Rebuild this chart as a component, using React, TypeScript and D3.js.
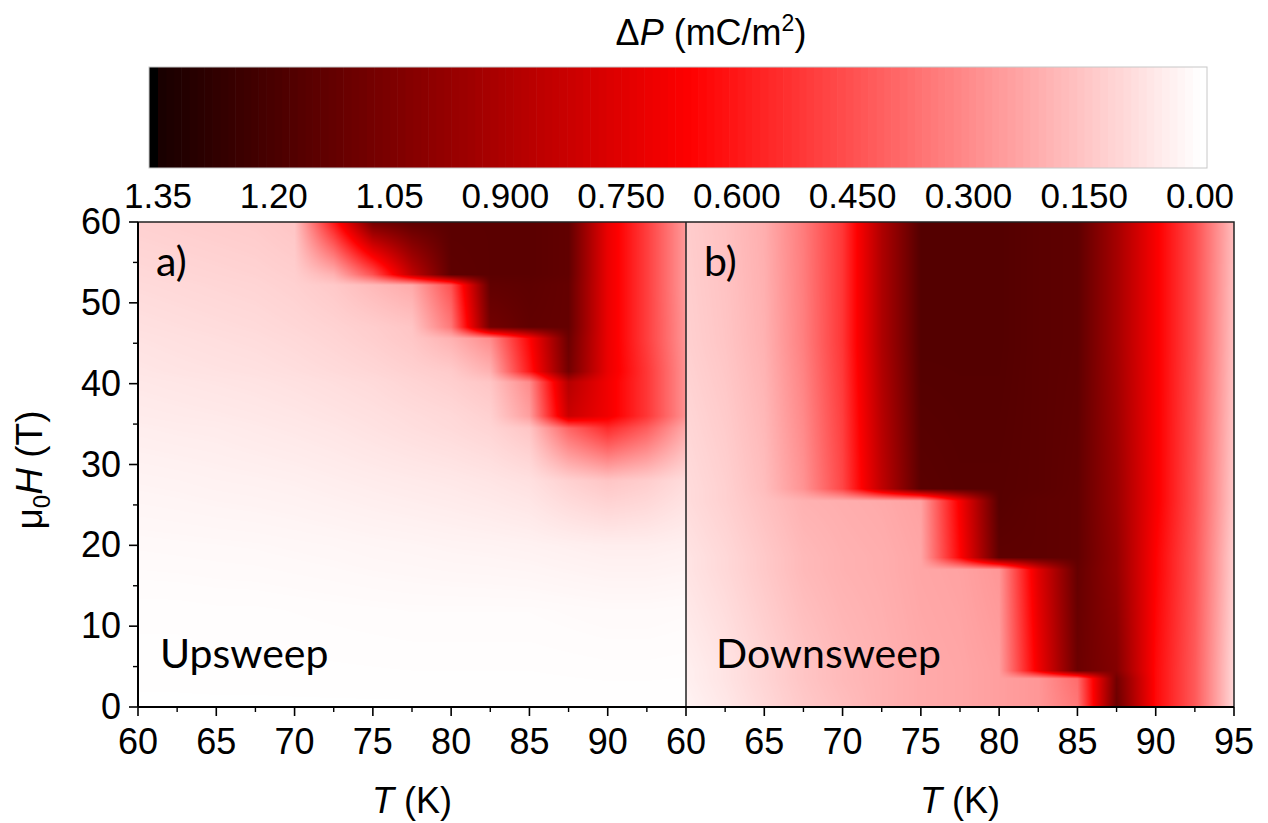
import React, { useMemo } from 'react';
import * as d3 from 'd3';

// ---------- DATA ----------
// Temperature columns (K) shared by both panels
const temps = [60, 62.5, 65, 67.5, 70, 72.5, 75, 77.5, 80, 82.5, 85, 87.5, 90, 92.5, 95];

// Upsweep: field nodes (T) and ΔP (mC/m²) per temperature column
const fieldsUp = [0, 12, 20, 28, 34.5, 36, 40.2, 41.5, 45.6, 47, 52.2, 53.5, 60];
const upsweep = [
  [0, 0.005, 0.015, 0.03, 0.045, 0.05, 0.06, 0.065, 0.075, 0.08, 0.095, 0.1, 0.12],
  [0, 0.005, 0.016, 0.032, 0.048, 0.053, 0.064, 0.07, 0.08, 0.085, 0.1, 0.105, 0.125],
  [0, 0.006, 0.017, 0.035, 0.05, 0.056, 0.068, 0.074, 0.085, 0.09, 0.105, 0.11, 0.13],
  [0, 0.006, 0.018, 0.037, 0.055, 0.06, 0.072, 0.078, 0.09, 0.095, 0.11, 0.115, 0.135],
  [0, 0.007, 0.02, 0.04, 0.06, 0.065, 0.078, 0.085, 0.098, 0.104, 0.12, 0.125, 0.15],
  [0, 0.008, 0.022, 0.045, 0.066, 0.072, 0.086, 0.094, 0.11, 0.115, 0.14, 0.2, 0.6],
  [0, 0.009, 0.025, 0.05, 0.075, 0.08, 0.095, 0.105, 0.125, 0.13, 0.18, 0.45, 1.08],
  [0, 0.01, 0.027, 0.055, 0.085, 0.09, 0.11, 0.12, 0.145, 0.15, 0.22, 0.85, 1.14],
  [0, 0.01, 0.03, 0.06, 0.095, 0.1, 0.125, 0.135, 0.2, 0.35, 0.45, 1.14, 1.15],
  [0, 0.01, 0.032, 0.068, 0.11, 0.12, 0.15, 0.2, 0.3, 1.08, 1.13, 1.15, 1.15],
  [0, 0.01, 0.035, 0.08, 0.15, 0.25, 0.3, 0.6, 0.65, 1.13, 1.14, 1.15, 1.15],
  [0, 0.012, 0.04, 0.12, 0.4, 0.82, 0.88, 1.08, 1.1, 1.12, 1.12, 1.13, 1.13],
  [0, 0.014, 0.045, 0.15, 0.55, 0.7, 0.7, 0.72, 0.72, 0.72, 0.72, 0.72, 0.72],
  [0, 0.014, 0.045, 0.13, 0.42, 0.52, 0.52, 0.52, 0.5, 0.5, 0.5, 0.5, 0.5],
  [0, 0.012, 0.04, 0.09, 0.22, 0.28, 0.28, 0.28, 0.27, 0.27, 0.26, 0.26, 0.26],
];

// Downsweep
const fieldsDown = [0, 3.5, 4.5, 17, 18.5, 25.5, 27, 45, 60];
const downsweep = [
  [0.03, 0.04, 0.04, 0.07, 0.07, 0.09, 0.09, 0.12, 0.13],
  [0.06, 0.07, 0.07, 0.1, 0.1, 0.12, 0.12, 0.15, 0.16],
  [0.1, 0.11, 0.11, 0.14, 0.14, 0.16, 0.17, 0.2, 0.21],
  [0.14, 0.15, 0.15, 0.18, 0.18, 0.2, 0.28, 0.33, 0.34],
  [0.17, 0.18, 0.18, 0.2, 0.2, 0.21, 0.48, 0.52, 0.52],
  [0.2, 0.2, 0.2, 0.21, 0.21, 0.22, 0.85, 0.9, 0.9],
  [0.22, 0.22, 0.22, 0.23, 0.23, 0.24, 1.15, 1.17, 1.17],
  [0.23, 0.23, 0.23, 0.24, 0.65, 0.68, 1.16, 1.17, 1.17],
  [0.25, 0.25, 0.25, 0.27, 1.14, 1.16, 1.16, 1.17, 1.17],
  [0.27, 0.27, 0.7, 0.75, 1.14, 1.14, 1.15, 1.15, 1.15],
  [0.35, 0.38, 1.1, 1.12, 1.13, 1.13, 1.13, 1.14, 1.14],
  [1.1, 1.08, 1.03, 0.98, 0.98, 0.96, 0.96, 0.93, 0.93],
  [0.64, 0.64, 0.64, 0.66, 0.66, 0.68, 0.68, 0.68, 0.68],
  [0.43, 0.43, 0.43, 0.44, 0.44, 0.45, 0.45, 0.46, 0.46],
  [0.1, 0.1, 0.1, 0.12, 0.12, 0.14, 0.14, 0.16, 0.17],
];

const cbTicks = [1.35, 1.2, 1.05, 0.9, 0.75, 0.6, 0.45, 0.3, 0.15, 0];
const cbLabels = ['1.35', '1.20', '1.05', '0.900', '0.750', '0.600', '0.450', '0.300', '0.150', '0.00'];
const xTicksA = [60, 65, 70, 75, 80, 85, 90];
const xTicksB = [60, 65, 70, 75, 80, 85, 90, 95];
const xMinor = [62.5, 67.5, 72.5, 77.5, 82.5, 87.5, 92.5];
const yTicks = [0, 10, 20, 30, 40, 50, 60];
const yMinor = [5, 15, 25, 35, 45, 55];

// ---------- LAYOUT ----------
const W = 1268, H = 823;
const L = 138, MID = 686, R = 1234, TOP = 222, BOT = 707;
const CB = { x0: 149, x1: 1207, y0: 67, y1: 168, vLeft: 158, vRight: 1200 };
const AX_FONT = '"Liberation Sans", Arial, sans-serif';
const LBL_FONT = 'Lato, "Open Sans", sans-serif';

const color = d3.scaleLinear<string>()
  .domain([0, 0.66, 1.42])
  .range(['#ffffff', '#ff0000', '#000000'])
  .clamp(true);

function sample(grid: number[][], fields: number[], T: number, Hf: number) {
  let i = d3.bisectRight(temps, T) - 1;
  i = Math.max(0, Math.min(temps.length - 2, i));
  const tt = Math.max(0, Math.min(1, (T - temps[i]) / (temps[i + 1] - temps[i])));
  let j = d3.bisectRight(fields, Hf) - 1;
  j = Math.max(0, Math.min(fields.length - 2, j));
  const hh = Math.max(0, Math.min(1, (Hf - fields[j]) / (fields[j + 1] - fields[j])));
  const a = grid[i][j] * (1 - hh) + grid[i][j + 1] * hh;
  const b = grid[i + 1][j] * (1 - hh) + grid[i + 1][j + 1] * hh;
  return a * (1 - tt) + b * tt;
}

function useRaster(grid: number[][], fields: number[], x: d3.ScaleLinear<number, number>, y: d3.ScaleLinear<number, number>) {
  return useMemo(() => {
    const [x0, x1] = x.range();
    const [y1, y0] = y.range();
    const w = Math.round(x1 - x0), h = Math.round(y1 - y0);
    const canvas = document.createElement('canvas');
    canvas.width = w; canvas.height = h;
    const ctx = canvas.getContext('2d')!;
    const img = ctx.createImageData(w, h);
    const lut: number[][] = [];
    for (let k = 0; k <= 1000; k++) {
      const c = d3.rgb(color(k * 1.5 / 1000));
      lut.push([c.r, c.g, c.b]);
    }
    for (let py = 0; py < h; py++) {
      const Hf = y.invert(y0 + py + 0.5);
      for (let px = 0; px < w; px++) {
        const T = x.invert(x0 + px + 0.5);
        const v = sample(grid, fields, T, Hf);
        const c = lut[Math.max(0, Math.min(1000, Math.round(v / 1.5 * 1000)))];
        const o = (py * w + px) * 4;
        img.data[o] = c[0]; img.data[o + 1] = c[1]; img.data[o + 2] = c[2]; img.data[o + 3] = 255;
      }
    }
    ctx.putImageData(img, 0, 0);
    return { href: canvas.toDataURL(), x: x0, y: y0, w, h };
  }, [grid, fields, x, y]);
}

function Panel({ grid, fields, x, y, ticks, label, name, nameX }: any) {
  const r = useRaster(grid, fields, x, y);
  return (
    <g>
      <image href={r.href} x={r.x} y={r.y} width={r.w} height={r.h} preserveAspectRatio="none" />
      {ticks.map((t: number) => (
        <g key={'t' + t}>
          <line x1={x(t)} x2={x(t)} y1={BOT} y2={BOT + 9} stroke="#000" strokeWidth={1.6} />
          <text x={x(t)} y={754} textAnchor="middle" fontFamily={AX_FONT} fontSize={36}>{t}</text>
        </g>
      ))}
      {xMinor.map((t: number) => (
        <line key={'m' + t} x1={x(t)} x2={x(t)} y1={BOT} y2={BOT + 5} stroke="#000" strokeWidth={1.4} />
      ))}
      <text x={(x.range()[0] + x.range()[1]) / 2} y={813} textAnchor="middle" fontFamily={AX_FONT} fontSize={36}>
        <tspan fontStyle="italic">T</tspan> (K)
      </text>
      <text x={x.range()[0] + 18} y={276} fontFamily={LBL_FONT} fontSize={41}>{label}</text>
      <text x={x.range()[0] + nameX} y={668} fontFamily={LBL_FONT} fontSize={41}>{name}</text>
    </g>
  );
}

export default function App() {
  const xA = useMemo(() => d3.scaleLinear().domain([60, 95]).range([L, MID]), []);
  const xB = useMemo(() => d3.scaleLinear().domain([60, 95]).range([MID, R]), []);
  const y = useMemo(() => d3.scaleLinear().domain([0, 60]).range([BOT, TOP]), []);
  const cb = d3.scaleLinear().domain([1.35, 0]).range([CB.vLeft, CB.vRight]);
  const cbSteps = d3.range(0, 1.35, 0.01);

  return (
    <svg width={W} height={H} style={{ position: 'absolute', left: 0, top: 0, background: '#fff' }}>
      <rect x={0} y={0} width={W} height={H} fill="#fff" />
      {/* colorbar */}
      <text x={711} y={45} textAnchor="middle" fontFamily={AX_FONT} fontSize={36}>
        Δ<tspan fontStyle="italic">P</tspan> (mC/m<tspan dy={-14} fontSize={23}>2</tspan><tspan dy={14}>)</tspan>
      </text>
      <rect x={CB.x0} y={CB.y0} width={CB.vLeft - CB.x0} height={CB.y1 - CB.y0} fill="#000" />
      {cbSteps.map((v) => (
        <rect key={v} x={cb(v + 0.01)} y={CB.y0} width={cb(v) - cb(v + 0.01) + 0.6} height={CB.y1 - CB.y0} fill={color(v + 0.005)} />
      ))}
      <rect x={CB.vRight} y={CB.y0} width={CB.x1 - CB.vRight} height={CB.y1 - CB.y0} fill="#fff" />
      <rect x={CB.x0} y={CB.y0} width={CB.x1 - CB.x0} height={CB.y1 - CB.y0} fill="none" stroke="#c8c8c8" strokeWidth={1} />
      {cbTicks.map((v, i) => (
        <text key={i} x={cb(v)} y={208} textAnchor="middle" fontFamily={AX_FONT} fontSize={35}>{cbLabels[i]}</text>
      ))}

      <Panel grid={upsweep} fields={fieldsUp} x={xA} y={y} ticks={xTicksA} label="a)" name="Upsweep" nameX={22} />
      <Panel grid={downsweep} fields={fieldsDown} x={xB} y={y} ticks={xTicksB} label="b)" name="Downsweep" nameX={30} />

      {/* y axis */}
      {yTicks.map((t) => (
        <g key={'y' + t}>
          <line x1={L - 9} x2={L} y1={y(t)} y2={y(t)} stroke="#000" strokeWidth={1.6} />
          <text x={121} y={y(t) + 12} textAnchor="end" fontFamily={AX_FONT} fontSize={36}>{t}</text>
        </g>
      ))}
      {yMinor.map((t) => (
        <line key={'ym' + t} x1={L - 5} x2={L} y1={y(t)} y2={y(t)} stroke="#000" strokeWidth={1.4} />
      ))}
      <text transform={`translate(42, 470) rotate(-90)`} textAnchor="middle" fontFamily={AX_FONT} fontSize={37}>
        μ<tspan dy={8} fontSize={24}>0</tspan><tspan dy={-8} fontStyle="italic">H</tspan> (T)
      </text>

      {/* frames */}
      <rect x={L} y={TOP} width={R - L} height={BOT - TOP} fill="none" stroke="#222" strokeWidth={1.5} />
      <line x1={MID} x2={MID} y1={TOP} y2={BOT} stroke="#222" strokeWidth={1.5} />
      <line x1={L} x2={R} y1={BOT} y2={BOT} stroke="#000" strokeWidth={2} />
      <line x1={L} x2={L} y1={TOP} y2={BOT} stroke="#000" strokeWidth={2} />
    </svg>
  );
}
